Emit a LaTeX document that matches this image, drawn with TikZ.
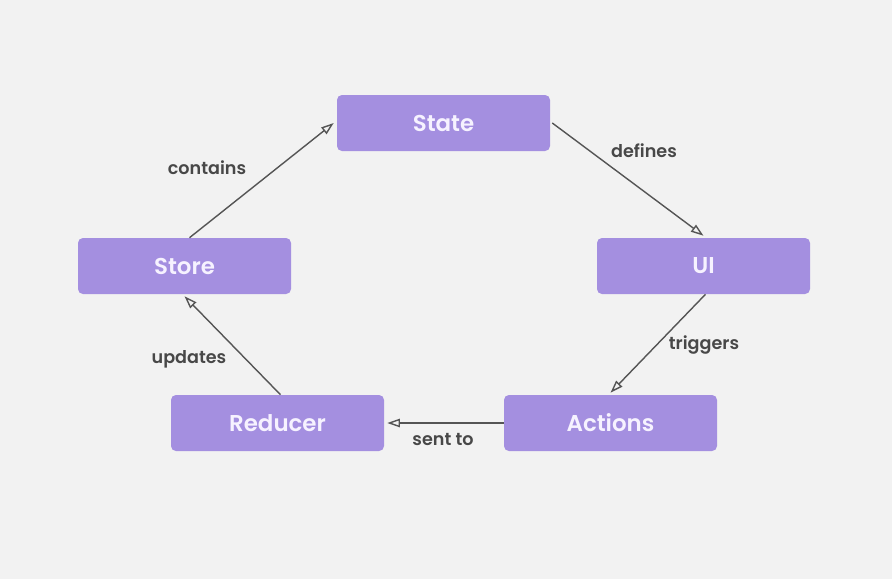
\documentclass[tikz,border=0pt]{standalone}
\usepackage{fontspec}
\setmainfont{Poppins}[BoldFont={* SemiBold}]
\usetikzlibrary{arrows.meta}
\definecolor{boxpurple}{RGB}{164,143,224}
\definecolor{boxtext}{RGB}{246,242,255}
\definecolor{linegray}{RGB}{85,85,85}
\definecolor{labelgray}{RGB}{72,72,72}
\definecolor{bggray}{RGB}{242,242,242}
\tikzset{
  stagebox/.style={fill=boxpurple, rounded corners=3.5pt, minimum width=213*0.025cm,
    minimum height=56*0.025cm, text=boxtext, font=\fontsize{16.3}{19}\selectfont\bfseries},
  flow/.style={draw=linegray, line width=1pt, -{Triangle[open,length=9pt,width=6pt]}},
  flowlabel/.style={text=labelgray, font=\fontsize{12.5}{15}\selectfont\bfseries}
}
\begin{document}
\begin{tikzpicture}[x=0.025cm,y=-0.025cm]
\fill[bggray] (0,0) rectangle (892,579);
\node[stagebox] (State) at (443.5,123) {State};
\node[stagebox] (UI) at (703.5,266) {UI};
\node[stagebox] (Store) at (184.5,266) {Store};
\node[stagebox] (Reducer) at (277.5,423) {Reducer};
\node[stagebox] (Actions) at (610.5,423) {Actions};
\draw[flow] ([xshift=5*0.025cm]Store.north) -- ([xshift=-3*0.025cm]State.west);
\draw[flow] ([xshift=2*0.025cm]State.east) -- ([yshift=2*0.025cm]UI.north);
\draw[flow] ([xshift=2*0.025cm]UI.south) -- ([yshift=2*0.025cm]Actions.north);
\draw[flow] (Actions.west) -- ([xshift=3*0.025cm]Reducer.east);
\draw[flow] ([xshift=3*0.025cm]Reducer.north) -- ([yshift=-2*0.025cm]Store.south);
\node[flowlabel] (contains) at (207,168) {contains};
\node[flowlabel] (defines) at (644,151) {defines};
\node[flowlabel] (triggers) at (704,345) {triggers};
\node[flowlabel] (updates) at (189,359) {updates};
\node[flowlabel] (sentto) at (443,439) {sent to};
\end{tikzpicture}
\end{document}
